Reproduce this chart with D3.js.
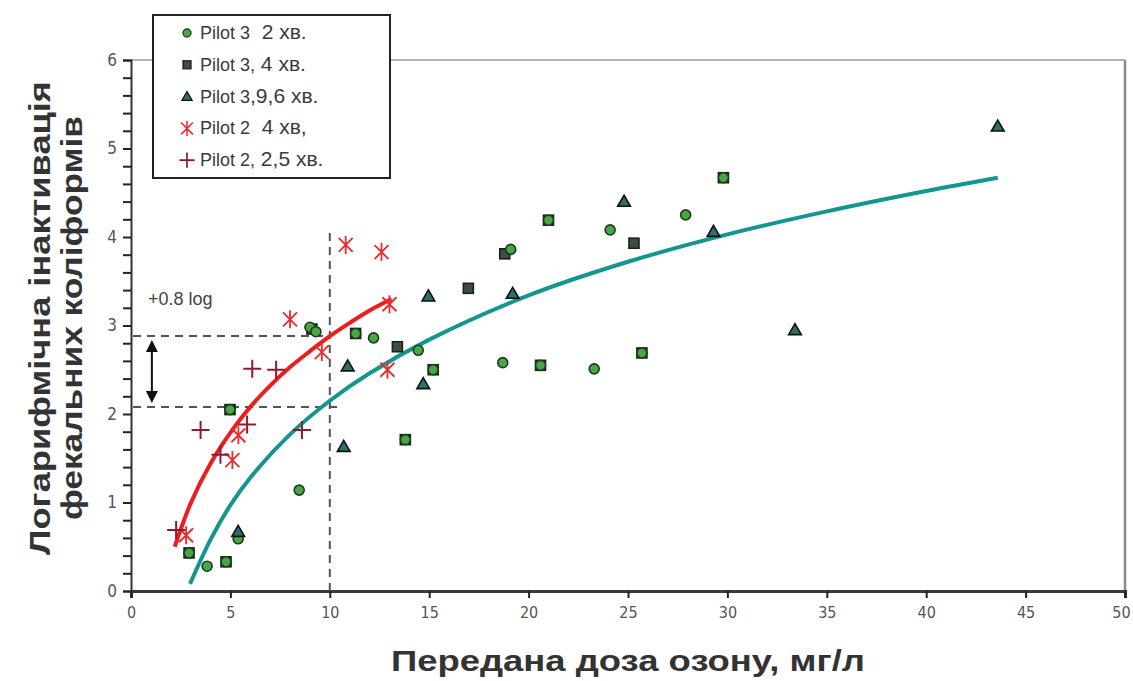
<!DOCTYPE html>
<html>
<head>
<meta charset="utf-8">
<script src="https://cdn.jsdelivr.net/npm/d3@7"></script>
<style>
  body { margin: 0; background: #fff; }
  svg { display: block; font-family: "Liberation Sans", Arial, sans-serif; }
</style>
</head>
<body>
<svg id="chart" width="1133" height="681"></svg>
<script>
// DATA
const pilot3_2min = [
  [2.92, 0.43], [3.83, 0.28], [4.78, 0.33], [5.39, 0.59], [8.46, 1.14],
  [4.98, 2.05], [9.0, 2.98], [9.3, 2.93], [11.3, 2.91], [12.2, 2.86],
  [14.45, 2.72], [15.2, 2.50], [13.8, 1.71], [19.1, 3.86], [21.0, 4.19],
  [24.1, 4.08], [27.9, 4.25], [29.8, 4.67], [18.7, 2.58], [20.6, 2.55],
  [23.3, 2.51], [25.7, 2.69]
];
const pilot3_4min = [
  [13.4, 2.76], [16.97, 3.42], [18.8, 3.81], [25.3, 3.93],
  [2.92, 0.43], [4.78, 0.33], [4.98, 2.05], [9.1, 2.96], [11.3, 2.91],
  [13.8, 1.71], [15.2, 2.50], [21.0, 4.19], [29.8, 4.67], [20.6, 2.55], [25.7, 2.69]
];
const pilot3_96min = [
  [5.39, 0.67], [10.9, 2.54], [10.7, 1.63], [14.7, 2.34], [14.96, 3.33],
  [19.2, 3.36], [24.8, 4.40], [29.3, 4.06], [33.4, 2.95], [43.6, 5.25]
];
const pilot2_4min = [
  [10.8, 3.91], [12.6, 3.83], [8.0, 3.07], [13.0, 3.24], [9.6, 2.70],
  [12.9, 2.50], [5.4, 1.76], [5.1, 1.48], [2.77, 0.63]
];
const pilot2_25min = [
  [6.1, 2.51], [7.3, 2.50], [3.5, 1.82], [5.84, 1.88], [4.5, 1.54],
  [8.6, 1.82], [2.27, 0.69]
];
// trend lines, points
const trendPilot2 = [
  [2.2, 0.50], [3, 0.99], [4, 1.44], [5, 1.79], [6, 2.08], [7, 2.32],
  [8, 2.53], [9, 2.71], [10, 2.88], [11, 3.03], [12, 3.17], [13.1, 3.30]
];
const trendPilot3 = [
  [2.97, 0.08], [4, 0.58], [5, 0.97], [6, 1.28], [8, 1.77], [10, 2.15],
  [12, 2.46], [15, 2.84], [20, 3.34], [25, 3.72], [30, 4.03], [35, 4.29],
  [40, 4.52], [43.6, 4.67]
];
const legendLabels = [
  ["Pilot 3", "  2 хв."],
  ["Pilot 3,", " 4 хв."],
  ["Pilot 3", ",9,6 хв."],
  ["Pilot 2", "  4 хв,"],
  ["Pilot 2,", " 2,5 хв."]
];
const xTicks = [0, 5, 10, 15, 20, 25, 30, 35, 40, 45, 50];
const yTicks = [0, 1, 2, 3, 4, 5, 6];
const refDose = 10, refLow = 2.08, refHigh = 2.88, refTop = 4.05;

// LAYOUT
const svg = d3.select("#chart");
const mLeft = 131, mRight = 1125, mTop = 60, mBottom = 591;
const x = d3.scaleLinear().domain([0, 50]).range([mLeft, mRight]);
const y = d3.scaleLinear().domain([0, 6]).range([mBottom, mTop]);
const tickFont = "'Liberation Sans Narrow', 'DejaVu Sans Condensed', sans-serif";

// frame
svg.append("line").attr("x1", mLeft).attr("x2", mRight).attr("y1", mTop).attr("y2", mTop)
  .attr("stroke", "#9a9a9a").attr("stroke-width", 1.5);
svg.append("line").attr("x1", mRight).attr("x2", mRight).attr("y1", mTop).attr("y2", mBottom)
  .attr("stroke", "#8a8a8a").attr("stroke-width", 2.5);

// axes
const yAxis = d3.axisLeft(y).tickValues(d3.range(0, 31).map(i => i / 5)).tickSize(8)
  .tickFormat(d => yTicks.includes(d) ? String(d) : "");
const gy = svg.append("g").attr("transform", `translate(${mLeft},0)`).call(yAxis);
gy.select(".domain").attr("stroke", "#333").attr("stroke-width", 2);
gy.selectAll(".tick line").attr("stroke", "#222").attr("stroke-width", 2);
gy.selectAll(".tick text").attr("fill", "#555").attr("font-size", 17)
  .attr("font-family", tickFont).attr("x", -14);

const xAxis = d3.axisBottom(x).tickValues(xTicks).tickSize(7).tickFormat(d3.format("d"));
const gx = svg.append("g").attr("transform", `translate(0,${mBottom})`).call(xAxis);
gx.select(".domain").attr("stroke", "#3a3a3a").attr("stroke-width", 3);
gx.selectAll(".tick line").attr("stroke", "#222").attr("stroke-width", 2);
gx.selectAll(".tick text").attr("fill", "#555").attr("font-size", 16).attr("y", 16)
  .attr("font-family", tickFont)
  .attr("dx", d => d === 50 ? -4 : 0);

// axis titles
svg.append("text").attr("x", 628).attr("y", 671).attr("text-anchor", "middle")
  .attr("font-size", 30).attr("font-weight", "bold").attr("fill", "#333")
  .attr("textLength", 474).attr("lengthAdjust", "spacingAndGlyphs")
  .text("Передана доза озону, мг/л");
const yt = svg.append("g").attr("transform", "translate(0,318) rotate(-90)");
yt.append("text").attr("x", 0).attr("y", 50).attr("text-anchor", "middle")
  .attr("font-size", 29).attr("font-weight", "bold").attr("fill", "#333")
  .attr("textLength", 474).attr("lengthAdjust", "spacingAndGlyphs")
  .text("Логарифмічна інактивація");
yt.append("text").attr("x", 0).attr("y", 82).attr("text-anchor", "middle")
  .attr("font-size", 29).attr("font-weight", "bold").attr("fill", "#333")
  .attr("textLength", 404).attr("lengthAdjust", "spacingAndGlyphs")
  .text("фекальних коліформів");

// reference dashed lines
function dashed(x1, y1, x2, y2) {
  svg.append("line").attr("x1", x1).attr("y1", y1).attr("x2", x2).attr("y2", y2)
    .attr("stroke", "#555").attr("stroke-width", 2).attr("stroke-dasharray", "8,6");
}
dashed(x(refDose), y(0), x(refDose), y(refTop));
dashed(x(0) + 2, y(refHigh), x(refDose), y(refHigh));
dashed(x(0) + 2, y(refLow), x(refDose) + 10, y(refLow));

// double arrow
const ax = x(1.05);
svg.append("line").attr("x1", ax).attr("x2", ax).attr("y1", y(refHigh) + 10).attr("y2", y(refLow) - 10)
  .attr("stroke", "#111").attr("stroke-width", 2);
svg.append("path").attr("d", `M${ax},${y(refHigh) + 4} l-6,12 l12,0 z`).attr("fill", "#111");
svg.append("path").attr("d", `M${ax},${y(refLow) - 4} l-6,-12 l12,0 z`).attr("fill", "#111");
svg.append("text").attr("x", x(0.85)).attr("y", y(3.23)).attr("font-size", 18).attr("fill", "#444")
  .text("+0.8 log");

// trend lines
const line = d3.line().x(d => x(d[0])).y(d => y(d[1])).curve(d3.curveCatmullRom);
svg.append("path").datum(trendPilot3).attr("d", line).attr("fill", "none")
  .attr("stroke", "#13968f").attr("stroke-width", 4);
svg.append("path").datum(trendPilot2).attr("d", line).attr("fill", "none")
  .attr("stroke", "#f01c1c").attr("stroke-width", 4);

// markers
function drawSquare(g) {
  g.append("rect").attr("x", -5).attr("y", -5).attr("width", 10).attr("height", 10)
    .attr("fill", "#3c4f3e").attr("stroke", "#1a221a").attr("stroke-width", 1.6);
}
function drawCircle(g) {
  g.append("circle").attr("r", 5).attr("fill", "#45a845").attr("stroke", "#1f3a22").attr("stroke-width", 1.6);
}
function drawTriangle(g) {
  g.append("path").attr("d", d3.symbol(d3.symbolTriangle, 70)).attr("transform", "translate(0,1)")
    .attr("fill", "#2f6f6a").attr("stroke", "#111").attr("stroke-width", 1.6);
}
function drawStar(g) {
  g.append("path").attr("d", "M-7,-7L7,7M-7,7L7,-7M0,-9V9")
    .attr("stroke", "#ef2a2a").attr("stroke-width", 1.8).attr("fill", "none");
}
function drawPlus(g) {
  g.append("path").attr("d", "M-9,0H9M0,-9V9")
    .attr("stroke", "#8e1b32").attr("stroke-width", 2).attr("fill", "none");
}
function scatter(data, draw) {
  svg.append("g").selectAll("g").data(data).join("g")
    .attr("transform", d => `translate(${x(d[0])},${y(d[1])})`)
    .each(function () { draw(d3.select(this)); });
}
scatter(pilot3_4min, drawSquare);
scatter(pilot3_2min, drawCircle);
scatter(pilot3_96min, drawTriangle);
scatter(pilot2_4min, drawStar);
scatter(pilot2_25min, drawPlus);

// legend
const lg = svg.append("g");
lg.append("rect").attr("x", 153).attr("y", 15).attr("width", 237).attr("height", 163)
  .attr("fill", "#fff").attr("stroke", "#222").attr("stroke-width", 2);
const drawers = [drawCircle, drawSquare, drawTriangle, drawStar, drawPlus];
legendLabels.forEach((lab, i) => {
  const cy = 33 + i * 31.8;
  const m = lg.append("g").attr("transform", `translate(187,${cy}) scale(${i < 3 ? 0.8 : 0.85})`);
  drawers[i](m);
  const t = lg.append("text").attr("x", 200).attr("y", cy + 6).attr("fill", "#3a3a3a")
    .attr("xml:space", "preserve");
  t.append("tspan").attr("font-size", 18).text(lab[0]);
  t.append("tspan").attr("font-size", 21).text(lab[1]);
});
</script>
</body>
</html>
